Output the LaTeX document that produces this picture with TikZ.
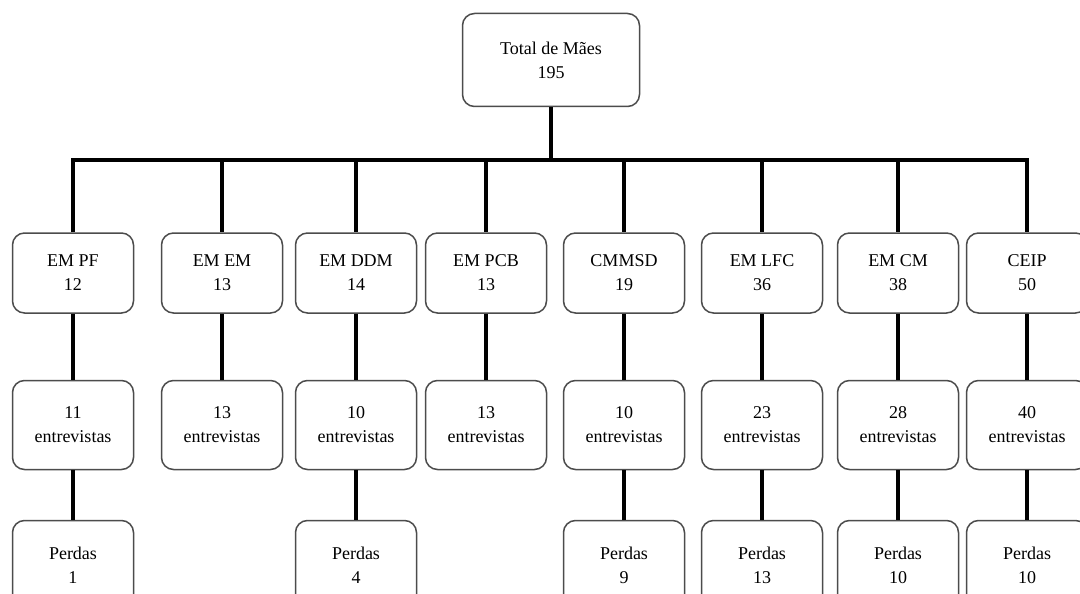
\documentclass[tikz,border=0pt]{standalone}
\usepackage{fontspec}
\setmainfont{Liberation Serif}
\usetikzlibrary{positioning}
\tikzset{
  card/.style={draw=black!70, line width=1.5pt, rounded corners=12pt, fill=white, align=center,
               inner sep=0pt, minimum width=121pt, font=\fontsize{18}{24}\selectfont},
  root/.style={card, minimum width=177pt, minimum height=93pt},
  unit/.style={card, minimum height=80pt},
  tally/.style={card, minimum height=89pt},
  wire/.style={draw, line width=3.5pt}
}

\begin{document}
\begin{tikzpicture}[x=1pt, y=-1pt]
\clip (0,0) rectangle (1080,594);
\fill[white] (0,0) rectangle (1080,594);
\node[root] (total) at (551,60) {Total de Mães\\195};
\coordinate (bus) at (0,160);
% schools
\node[unit] (s1) at (73,273) {EM PF\\12};
\node[unit] (s2) at (222,273) {EM EM\\13};
\node[unit] (s3) at (356,273) {EM DDM\\14};
\node[unit] (s4) at (486,273) {EM PCB\\13};
\node[unit] (s5) at (624,273) {CMMSD\\19};
\node[unit] (s6) at (762,273) {EM LFC\\36};
\node[unit] (s7) at (898,273) {EM CM\\38};
\node[unit] (s8) at (1027,273) {CEIP\\50};
% interviews
\node[tally] (e1) at (73,425) {11\\entrevistas};
\node[tally] (e2) at (222,425) {13\\entrevistas};
\node[tally] (e3) at (356,425) {10\\entrevistas};
\node[tally] (e4) at (486,425) {13\\entrevistas};
\node[tally] (e5) at (624,425) {10\\entrevistas};
\node[tally] (e6) at (762,425) {23\\entrevistas};
\node[tally] (e7) at (898,425) {28\\entrevistas};
\node[tally] (e8) at (1027,425) {40\\entrevistas};
% losses
\node[tally] (p1) at (73,565) {Perdas\\1};
\node[tally] (p3) at (356,565) {Perdas\\4};
\node[tally] (p5) at (624,565) {Perdas\\9};
\node[tally] (p6) at (762,565) {Perdas\\13};
\node[tally] (p7) at (898,565) {Perdas\\10};
\node[tally] (p8) at (1027,565) {Perdas\\10};
\draw[wire] (total) -- (total |- bus);
\draw[wire] (s1) |- (s8 |- bus) -- (s8);
\foreach \n in {2,...,7} \draw[wire] (s\n |- bus) -- (s\n);
\foreach \n in {1,...,8} \draw[wire] (s\n) -- (e\n);
\foreach \n in {1,3,5,6,7,8} \draw[wire] (e\n) -- (p\n);
\end{tikzpicture}
\end{document}
